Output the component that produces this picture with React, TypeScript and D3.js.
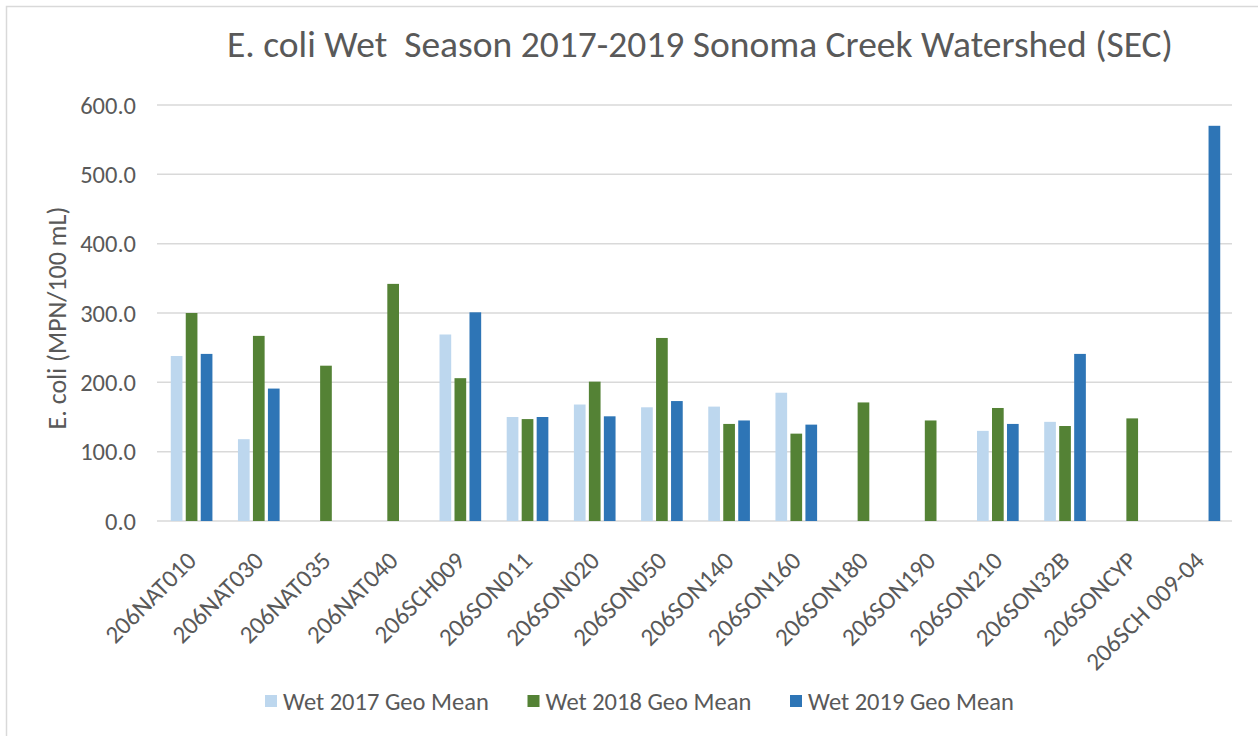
import { useEffect, useRef } from "react";
import * as d3 from "d3";

const SITES = [
  "206NAT010", "206NAT030", "206NAT035", "206NAT040", "206SCH009", "206SON011",
  "206SON020", "206SON050", "206SON140", "206SON160", "206SON180", "206SON190",
  "206SON210", "206SON32B", "206SONCYP", "206SCH 009-04",
];
const SERIES = ["Wet 2017 Geo Mean", "Wet 2018 Geo Mean", "Wet 2019 Geo Mean"];
const COLORS = ["#BDD7EE", "#548235", "#2E75B6"];

// null = no sample that season
const WET_2017 = [238, 118, null, null, 269, 150, 168, 164, 165, 185, null, null, 130, 143, null, null];
const WET_2018 = [300, 267, 224, 342, 206, 147, 201, 264, 140, 126, 171, 145, 163, 137, 148, null];
const WET_2019 = [241, 191, null, null, 301, 150, 151, 173, 145, 139, null, null, 140, 241, null, 570];

const Y_TICKS = [0, 100, 200, 300, 400, 500, 600];

const W = 1258;
const H = 736;
const PLOT = { left: 157, right: 1232, top: 105, bottom: 521 };
const FONT = "Carlito, Calibri, Lato, 'Open Sans', sans-serif";
const INK = "#595959";

export default function App() {
  const svgRef = useRef(null);

  useEffect(() => {
    const svg = d3.select(svgRef.current);
    svg.selectAll("*").remove();

    const x = d3.scaleBand().domain(SITES).range([PLOT.left, PLOT.right]).padding(0);
    const y = d3.scaleLinear().domain([0, 600]).range([PLOT.bottom, PLOT.top]);
    const gw = x.bandwidth() * 0.62;
    const xs = d3.scaleBand().domain(SERIES).range([-gw / 2 + 1, gw / 2 + 1]).paddingInner(0.22);

    // chart frame (only top + left visible in the crop)
    svg.append("rect")
      .attr("x", 6.5).attr("y", 6.5).attr("width", W + 20).attr("height", H + 20)
      .attr("fill", "#fff").attr("stroke", "#d9d9d9").attr("stroke-width", 1.5);

    svg.append("text")
      .attr("x", 700).attr("y", 57)
      .attr("text-anchor", "middle")
      .attr("font-family", FONT).attr("font-size", 37.5).attr("fill", INK)
      .style("white-space", "pre")
      .text("E. coli Wet  Season 2017-2019 Sonoma Creek Watershed (SEC)");

    // gridlines + y labels
    svg.append("g").selectAll("line")
      .data(Y_TICKS)
      .join("line")
      .attr("x1", PLOT.left).attr("x2", PLOT.right)
      .attr("y1", d => y(d)).attr("y2", d => y(d))
      .attr("stroke", "#d9d9d9").attr("stroke-width", 1.5);

    svg.append("g").selectAll("text")
      .data(Y_TICKS)
      .join("text")
      .attr("x", 136).attr("y", d => y(d))
      .attr("dy", "0.35em")
      .attr("text-anchor", "end")
      .attr("font-family", FONT).attr("font-size", 24.5).attr("fill", INK)
      .text(d => d3.format(".1f")(d));

    svg.append("text")
      .attr("transform", `translate(57,${(PLOT.top + PLOT.bottom) / 2 + 5}) rotate(-90)`)
      .attr("text-anchor", "middle").attr("dy", "0.35em")
      .attr("font-family", FONT).attr("font-size", 26).attr("fill", INK)
      .text("E. coli (MPN/100 mL)");

    // bars
    const all = [WET_2017, WET_2018, WET_2019];
    all.forEach((vals, si) => {
      svg.append("g").selectAll("rect")
        .data(vals.map((v, i) => ({ site: SITES[i], v })).filter(d => d.v != null))
        .join("rect")
        .attr("x", d => x(d.site) + x.bandwidth() / 2 + xs(SERIES[si]))
        .attr("width", xs.bandwidth())
        .attr("y", d => y(d.v))
        .attr("height", d => y(0) - y(d.v))
        .attr("fill", COLORS[si]);
    });

    // x labels, rotated
    svg.append("g").selectAll("text")
      .data(SITES)
      .join("text")
      .attr("transform", d => `translate(${x(d) + x.bandwidth() / 2 + 1},556) rotate(-45)`)
      .attr("text-anchor", "end").attr("dy", "0.35em")
      .attr("font-family", FONT).attr("font-size", 25).attr("fill", INK)
      .text(d => d);

    // legend
    const lg = svg.append("g").selectAll("g")
      .data(SERIES)
      .join("g")
      .attr("transform", (d, i) => `translate(${265 + i * 262.5},701)`);
    lg.append("rect")
      .attr("x", 0).attr("y", -6).attr("width", 12).attr("height", 12)
      .attr("fill", (d, i) => COLORS[i]);
    lg.append("text")
      .attr("x", 18).attr("dy", "0.35em")
      .attr("font-family", FONT).attr("font-size", 24.5).attr("fill", INK)
      .text(d => d);
  }, []);

  return (
    <svg
      ref={svgRef}
      width={W}
      height={H}
      style={{ position: "absolute", left: 0, top: 0, display: "block", background: "#fff" }}
    />
  );
}
